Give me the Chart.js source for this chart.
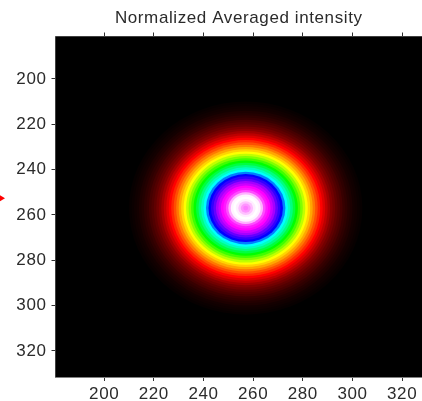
<!DOCTYPE html>
<html>
<head>
<meta charset="utf-8">
<title>Normalized Averaged intensity</title>
<script src="https://cdn.jsdelivr.net/npm/chart.js@4"></script>
<style>
  html, body { margin: 0; padding: 0; background: #fff; overflow: hidden; }
  canvas { display: block; }
</style>
</head>
<body>
<canvas id="myChart" width="422" height="401"></canvas>
<script>
const xTicks = [200, 220, 240, 260, 280, 300, 320];
const yTicks = [200, 220, 240, 260, 280, 300, 320];
const xRange = [180.4, 328];
const yRange = [181.3, 331.5];

// beam centre
const centerX = [257];
const centerY = [257];

// radial profile: distance from the centre (pixels of the image)
// and normalized intensity at that distance, drawn as nested discs, outermost first
const radius = [
  47, 46, 45, 44, 43, 42, 41, 40, 39, 38, 37, 36, 35, 34, 33, 32,
  31, 30, 29, 28, 27, 26, 25, 24, 23, 22, 21, 20, 19, 18, 17, 16,
  15, 14, 13, 12, 11, 10, 9, 8, 7, 6, 5, 4, 3, 2, 1
];
const intensity = [
  0.004, 0.006, 0.009, 0.011, 0.016, 0.02, 0.026, 0.031, 0.039, 0.046, 0.054, 0.064, 0.074, 0.089, 0.106, 0.124,
  0.143, 0.164, 0.186, 0.21, 0.236, 0.261, 0.286, 0.321, 0.357, 0.393, 0.429, 0.464, 0.5, 0.536, 0.571, 0.643,
  0.714, 0.743, 0.771, 0.807, 0.829, 0.857, 0.871, 0.9, 0.957, 0.993, 1, 0.99, 0.965, 0.94, 0.925
];

// black, red, yellow, green, cyan, blue, magenta, white
const colormap = [
  [0, 0, 0], [255, 0, 0], [255, 255, 0], [0, 255, 0],
  [0, 255, 255], [0, 0, 255], [255, 0, 255], [255, 255, 255]
];

function levelColor(v) {
  const t = Math.min(v * (colormap.length - 1), colormap.length - 1.001);
  const i = Math.floor(t);
  const f = t - i;
  const c = colormap[i].map((a, k) => Math.round(a + (colormap[i + 1][k] - a) * f));
  return "rgb(" + c.join(",") + ")";
}

const textColor = "#2b2b2b";
const axisColor = "#808080";
const tickColor = "#303030";
const tickFont = { family: "'Liberation Sans'", size: 17 };

// x and y have different pixel sizes, so the discs are squeezed into ellipses
const ellipsePlugin = {
  id: "ellipse",
  beforeDatasetDraw(chart) {
    const { ctx, scales } = chart;
    const px = scales.x.getPixelForValue(centerX[0]);
    const py = scales.y.getPixelForValue(centerY[0]);
    const sx = Math.abs(scales.x.getPixelForValue(1) - scales.x.getPixelForValue(0));
    const sy = Math.abs(scales.y.getPixelForValue(1) - scales.y.getPixelForValue(0));
    ctx.save();
    ctx.translate(px, py);
    ctx.scale(1, sy / sx);
    ctx.translate(-px, -py);
  },
  afterDatasetDraw(chart) {
    chart.ctx.restore();
  },
};

const backgroundPlugin = {
  id: "background",
  beforeDraw(chart) {
    // the reference text is spaced a little wider than the installed fonts
    chart.ctx.letterSpacing = "0.6px";
  },
  beforeDatasetsDraw(chart) {
    const { ctx, chartArea: a } = chart;
    ctx.save();
    ctx.fillStyle = "#000";
    ctx.fillRect(a.left, a.top, a.right - a.left, a.bottom - a.top);
    ctx.restore();
  },
};

// small red arrow cut by the left edge of the window
const arrowPlugin = {
  id: "arrow",
  afterDraw(chart) {
    const { ctx } = chart;
    const y = chart.scales.y.getPixelForValue(252.6);
    ctx.save();
    ctx.fillStyle = "#f00";
    ctx.beginPath();
    ctx.moveTo(0, y - 3);
    ctx.lineTo(5, y);
    ctx.lineTo(0, y + 3);
    ctx.fill();
    ctx.restore();
  },
};

function fixedTicks(list) {
  return function (axis) {
    axis.ticks = list.map((v) => ({ value: v }));
  };
}

const myChart = new Chart(document.getElementById("myChart"), {
  type: "scatter",
  data: {
    datasets: [
      {
        label: "intensity",
        data: radius.map(() => ({ x: centerX[0], y: centerY[0] })),
        showLine: false,
        pointBorderWidth: 0,
        pointRadius(c) {
          const s = c.chart.scales.x;
          return Math.abs(s.getPixelForValue(radius[c.dataIndex]) - s.getPixelForValue(0));
        },
        pointBackgroundColor(c) {
          return levelColor(intensity[c.dataIndex]);
        },
      },
    ],
  },
  plugins: [backgroundPlugin, ellipsePlugin, arrowPlugin],
  options: {
    responsive: false,
    animation: false,
    events: [],
    layout: { padding: 0 },
    plugins: {
      legend: { display: false },
      tooltip: { enabled: false },
      title: {
        display: true,
        text: "Normalized Averaged intensity",
        fullSize: false,
        color: textColor,
        font: { family: "'Liberation Sans'", size: 17, weight: "normal", lineHeight: 1.2 },
        padding: { top: 8, bottom: 0 },
      },
    },
    scales: {
      x: {
        type: "linear",
        position: "bottom",
        min: xRange[0],
        max: xRange[1],
        afterBuildTicks: fixedTicks(xTicks),
        afterFit(s) { s.height = 24; },
        ticks: { color: textColor, font: tickFont, maxRotation: 0, padding: 3, autoSkip: false },
        grid: { drawOnChartArea: false, tickLength: 4, tickColor: tickColor },
        border: { color: axisColor, width: 1 },
      },
      x2: {
        type: "linear",
        position: "top",
        min: xRange[0],
        max: xRange[1],
        afterBuildTicks: fixedTicks(xTicks),
        afterFit(s) { s.height = 8.1; },
        ticks: { display: false },
        grid: { drawOnChartArea: false, tickLength: 4, tickColor: tickColor },
        border: { color: axisColor, width: 1 },
      },
      y: {
        type: "linear",
        position: "left",
        reverse: true,
        min: yRange[0],
        max: yRange[1],
        afterBuildTicks: fixedTicks(yTicks),
        afterFit(s) { s.width = 55.5; },
        ticks: { color: textColor, font: tickFont, padding: 5, autoSkip: false },
        grid: { drawOnChartArea: false, tickLength: 4, tickColor: tickColor },
        border: { color: axisColor, width: 1 },
      },
    },
  },
});
</script>
</body>
</html>
